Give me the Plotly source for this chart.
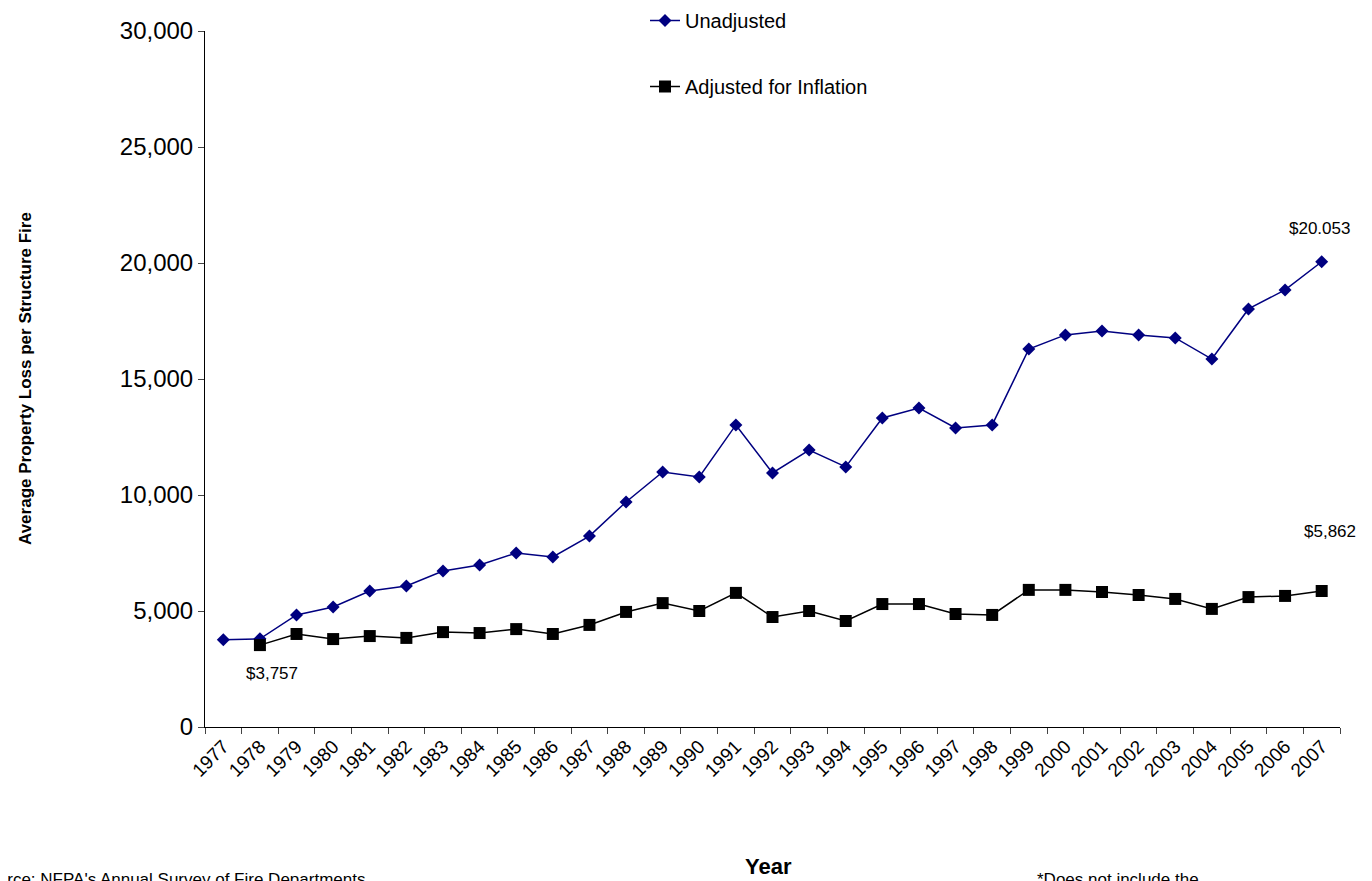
import plotly.graph_objects as go

years = [str(y) for y in range(1977, 2008)]
unadjusted = [3757, 3800, 4830, 5170, 5860, 6080, 6720, 6980, 7500, 7330, 8230, 9700,
              10990, 10780, 13020, 10950, 11940, 11210, 13320, 13750, 12890, 13020,
              16290, 16900, 17070, 16900, 16770, 15860, 18020, 18840, 20053]
adjusted = [None, 3530, 4010, 3790, 3920, 3840, 4090, 4050, 4220, 4010, 4400, 4960,
            5340, 5000, 5780, 4740, 5000, 4570, 5300, 5300, 4870, 4830,
            5910, 5910, 5820, 5690, 5520, 5090, 5600, 5650, 5862]

font = "Liberation Sans, Arial, sans-serif"
OFF = 8  # page offset of the figure in the browser
L, R, T, B = 205 - OFF, 1340 - OFF, 31 - OFF, 727 - OFF


def px(x, y):
    return (x - OFF - L) / (R - L), (B - (y - OFF)) / (B - T)


fig = go.Figure()
fig.add_trace(go.Scatter(x=years, y=unadjusted, name="Unadjusted", mode="lines+markers",
                         legendgroup="a",
                         line=dict(color="#000080", width=1.5),
                         marker=dict(symbol="diamond", size=10, color="#000080")))
fig.add_trace(go.Scatter(x=years, y=adjusted, name="Adjusted for Inflation", mode="lines+markers",
                         legendgroup="b",
                         line=dict(color="black", width=1.5),
                         marker=dict(symbol="square", size=12, color="black")))

# category index positions (numeric strings would be read as indices)
fig.add_annotation(x=years.index("2007"), y=unadjusted[-1], xref="x", yref="y", text="$20.053",
                   showarrow=False, yshift=33, xshift=-2)
fig.add_annotation(x=years.index("2007"), y=adjusted[-1], xref="x", yref="y", text="$5,862",
                   showarrow=False, yshift=60, xshift=8)
fig.add_annotation(x=years.index("1978"), y=adjusted[1], xref="x", yref="y", text="$3,757",
                   showarrow=False, yshift=-28, xshift=12)

for txt, xpix, ypix, anchor, size in [
    ("<b>Year</b>", 768, 866, "center", 22),
    ("Source: NFPA's Annual Survey of Fire Departments", -25, 879, "left", 17),
    ("*Does not include the", 1035, 879, "left", 17),
    ("<b>Average Property Loss per Structure Fire</b>", 25, 379, "center", 17),
]:
    xp, yp = px(xpix, ypix)
    fig.add_annotation(x=xp, y=yp, xref="paper", yref="paper", text=txt, showarrow=False,
                       xanchor=anchor, yanchor="middle", font=dict(size=size),
                       textangle=-90 if "Average" in txt else 0)

lx, ly = px(645, 1)
fig.update_layout(
    width=1372, height=881, plot_bgcolor="white", paper_bgcolor="white",
    margin=dict(l=L, r=1372 - R, t=T, b=881 - B, autoexpand=False),
    font=dict(family=font, size=17, color="black"),
    legend=dict(x=lx, y=ly, xanchor="left", yanchor="top", font=dict(size=20),
                tracegroupgap=37, bgcolor="rgba(0,0,0,0)"),
    xaxis=dict(type="category", range=[-0.5, 30.5], tickangle=-45, tickson="boundaries",
               showline=True, linecolor="black", ticks="outside", ticklen=6,
               tickfont=dict(size=19), showgrid=False, automargin=False),
    yaxis=dict(range=[0, 30000], tickvals=list(range(0, 30001, 5000)), tickformat=",",
               showline=True, linecolor="black", ticks="outside", ticklen=6,
               tickfont=dict(size=24), showgrid=False, zeroline=False, automargin=False),
)
fig.write_html("out.html")
